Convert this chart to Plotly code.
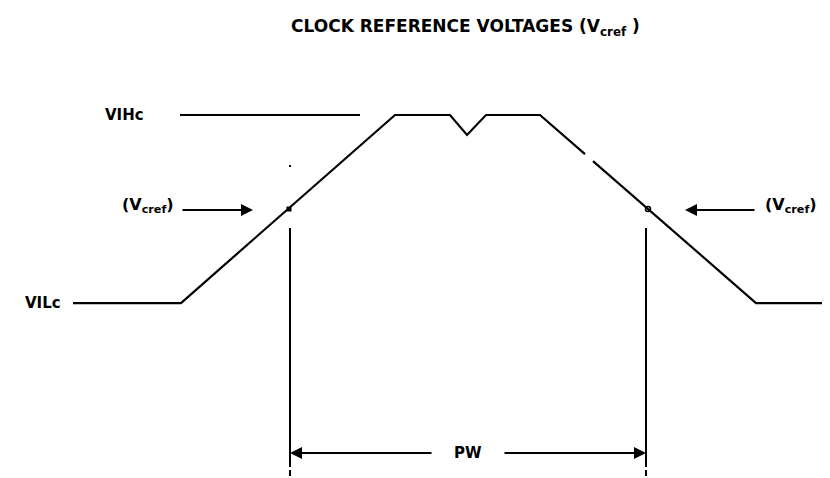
import plotly.graph_objects as go

# ---- data (x in time units ~ pixel columns, v in normalized volts: VILc=0, VIHc=1) ----
wave_x = [65, 173, 387, 442, 459, 478, 532, 577, None, 585, 748, 830]
wave_v = [0, 0, 1, 1, 0.894, 1, 1, 0.792, None, 0.755, 0, 0]
vih_ref_x = [172, 352]
vih_ref_v = [1, 1]
vcref_level = 0.5
cross_rise_x = 281
cross_fall_x = 640
pw_left_x = 282
pw_right_x = 638
pw_level = -0.798
speck_x = [282]
speck_v = [0.729]

FONT = "DejaVu Sans, Liberation Sans, Arial, sans-serif"
fig = go.Figure()

fig.add_trace(go.Scatter(x=wave_x, y=wave_v, mode="lines",
                         line=dict(color="black", width=2.2), hoverinfo="skip"))
fig.add_trace(go.Scatter(x=vih_ref_x, y=vih_ref_v, mode="lines",
                         line=dict(color="black", width=2.2), hoverinfo="skip"))
# vertical PW boundary lines (solid part, then broken ends)
fig.add_trace(go.Scatter(x=[pw_left_x, pw_left_x, None, pw_right_x, pw_right_x],
                         y=[0.399, -0.84, None, 0.399, -0.84], mode="lines",
                         line=dict(color="black", width=2), hoverinfo="skip"))
fig.add_trace(go.Scatter(x=[pw_left_x, pw_left_x, None, pw_right_x, pw_right_x],
                         y=[-0.84, -0.973, None, -0.84, -0.973], mode="lines",
                         line=dict(color="black", width=2, dash="6px,3px"), hoverinfo="skip"))
# reference crossing markers
fig.add_trace(go.Scatter(x=[cross_rise_x], y=[vcref_level], mode="markers",
                         marker=dict(symbol="square", size=5, color="black"), hoverinfo="skip"))
fig.add_trace(go.Scatter(x=[cross_fall_x], y=[vcref_level], mode="markers",
                         marker=dict(symbol="circle-open", size=5, color="black",
                                     line=dict(width=1.5)), hoverinfo="skip"))
fig.add_trace(go.Scatter(x=speck_x, y=speck_v, mode="markers",
                         marker=dict(symbol="square", size=2, color="black"), hoverinfo="skip"))

ann = []
def arrow(x, y, ax, ay):
    ann.append(dict(x=x, y=y, ax=ax, ay=ay, xref="x", yref="y", axref="x", ayref="y",
                    text="", showarrow=True, arrowhead=2, arrowsize=1.2, arrowwidth=2,
                    arrowcolor="black"))

arrow(245, 0.495, 173, 0.495)
arrow(677, 0.495, 748, 0.495)
arrow(pw_left_x, pw_level, 425, pw_level)
arrow(pw_right_x, pw_level, 495, pw_level)

def label(x, y, t, anchor="center", size=15):
    ann.append(dict(x=x, y=y, xref="x", yref="y", text=t, showarrow=False,
                    xanchor=anchor, yanchor="middle",
                    font=dict(family=FONT, size=size, color="black")))

label(95, 1.0, "<b>VIHc</b>", "left")
label(55, 0.0, "<b>VILc</b>", "right")
label(168, 0.52, "<b>(V<sub>cref</sub>)</b>", "right", 16)
label(755, 0.52, "<b>(V<sub>cref</sub>)</b>", "left", 16)
label(460, pw_level, "<b>PW</b>")
label(457, 1.463, "<b>CLOCK REFERENCE VOLTAGES (V<sub>cref</sub> )</b>", size=17)

fig.update_layout(
    width=830, height=478,
    margin=dict(l=0, r=0, t=0, b=0),
    paper_bgcolor="white", plot_bgcolor="white",
    showlegend=False,
    annotations=ann,
    xaxis=dict(range=[0, 830], visible=False, fixedrange=True),
    yaxis=dict(range=[-0.973, 1.569], visible=False, fixedrange=True),
)

fig.write_html("out.html")
